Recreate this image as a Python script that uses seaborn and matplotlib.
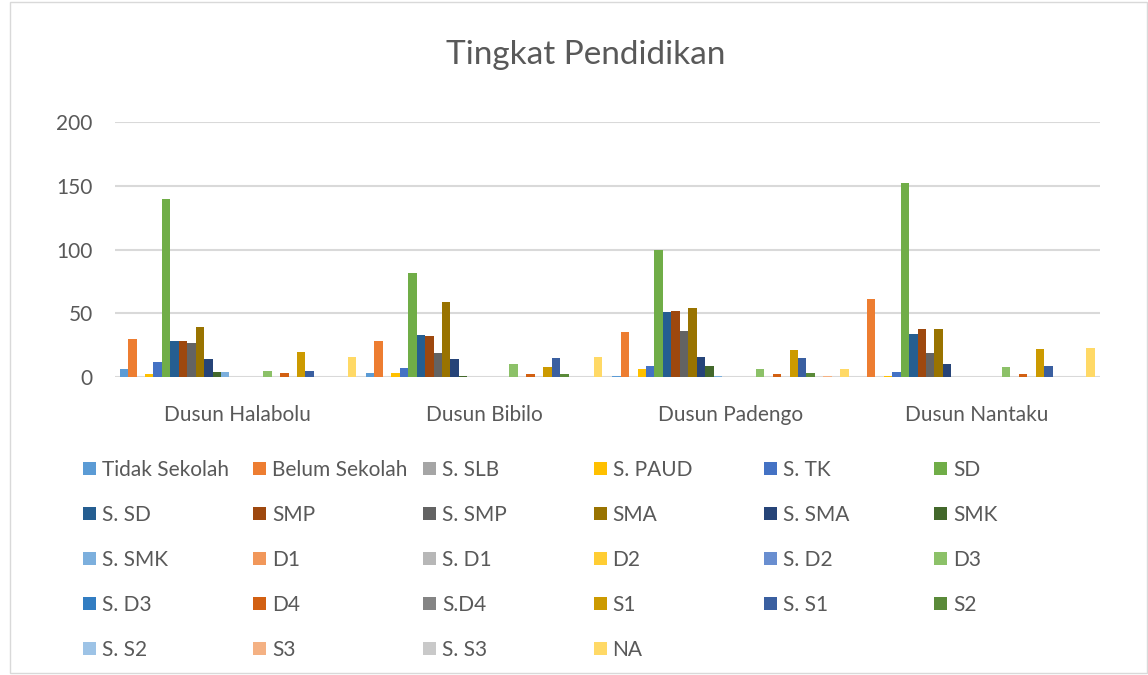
import pandas as pd
import matplotlib.pyplot as plt
import seaborn as sns
from matplotlib.patches import Rectangle

# ============================
# Data
# ============================

dusun = ["Dusun Halabolu", "Dusun Bibilo", "Dusun Padengo", "Dusun Nantaku"]

tingkat = ["Tidak Sekolah", "Belum Sekolah", "S. SLB", "S. PAUD", "S. TK", "SD",
           "S. SD", "SMP", "S. SMP", "SMA", "S. SMA", "SMK",
           "S. SMK", "D1", "S. D1", "D2", "S. D2", "D3",
           "S. D3", "D4", "S.D4", "S1", "S. S1", "S2",
           "S. S2", "S3", "S. S3", "NA"]

halabolu = [6, 30, 0, 2, 12, 140, 28, 28, 27, 39, 14, 4, 4, 0, 0, 0, 0, 5, 0, 3, 0, 20, 5, 0, 0, 0, 0, 16]
bibilo = [3, 28, 0, 3, 7, 82, 33, 32, 19, 59, 14, 1, 0, 0, 0, 0, 0, 10, 0, 2, 0, 8, 15, 2, 0, 0, 0, 16]
padengo = [1, 35, 0, 6, 9, 100, 51, 52, 36, 54, 16, 9, 1, 0, 0, 0, 0, 6, 0, 2, 0, 21, 15, 3, 0, 1, 0, 6]
nantaku = [0, 61, 0, 1, 4, 152, 34, 38, 19, 38, 10, 0, 0, 0, 0, 0, 0, 8, 0, 2, 0, 22, 9, 0, 0, 0, 0, 23]

colors = ["#5B9BD5", "#ED7D31", "#A5A5A5", "#FFC000", "#4472C4", "#70AD47",
          "#255E91", "#9E480E", "#636363", "#997300", "#264478", "#43682B",
          "#7CAFDD", "#F1975A", "#B7B7B7", "#FFCD33", "#698ED0", "#8CC168",
          "#327DC2", "#D26012", "#848484", "#CC9A00", "#3A5FA0", "#5A8A39",
          "#9DC3E6", "#F4B183", "#C9C9C9", "#FFD966"]

rows = []
for d, vals in zip(dusun, [halabolu, bibilo, padengo, nantaku]):
    for t, v in zip(tingkat, vals):
        rows.append({"Dusun": d, "Tingkat": t, "Jumlah": v})
df = pd.DataFrame(rows)

# ============================
# Plot
# ============================

sns.set_theme(style="white")
plt.rcParams['font.family'] = ['Lato', 'DejaVu Sans']
text_color = "#595959"

W, H = 1148, 675
fig = plt.figure(figsize=(W / 100, H / 100), dpi=100)
ax = fig.add_axes([0.1, 0.4415, 0.858, 0.3775])

sns.barplot(data=df, x="Dusun", y="Jumlah", hue="Tingkat", hue_order=tingkat,
            palette=colors, width=0.96, ax=ax, legend=False, saturation=1,
            edgecolor="none")

ax.set_ylim(0, 200)
ax.set_yticks([0, 50, 100, 150, 200])
ax.yaxis.grid(True, color="#D9D9D9", linewidth=1.5)
ax.set_axisbelow(True)
for s in ax.spines.values():
    s.set_visible(False)
ax.set_xlabel("")
ax.set_ylabel("")
ax.tick_params(axis="both", length=0, labelsize=15, colors=text_color)
ax.tick_params(axis="x", pad=20)
ax.tick_params(axis="y", pad=16)

fig.text(0.51, 0.918, "Tingkat Pendidikan", ha="center", va="center",
         fontsize=24, color=text_color)

# ============================
# Legend (row-major grid, like Excel)
# ============================

ncol = 6
x0, dx = 83, 170.2
y0, dy = 468, 45
box = 13
for i, (t, c) in enumerate(zip(tingkat, colors)):
    r, col = divmod(i, ncol)
    x = x0 + col * dx
    y = y0 + r * dy
    fig.patches.append(Rectangle((x / W, 1 - (y + box / 2) / H), box / W, box / H,
                                 transform=fig.transFigure, facecolor=c,
                                 edgecolor="none"))
    fig.text((x + 19) / W, 1 - y / H, t, ha="left", va="center_baseline",
             fontsize=15, color=text_color)

fig.patches.append(Rectangle((0.009, 0.003), 0.99, 0.994, transform=fig.transFigure,
                             fill=False, edgecolor="#D9D9D9", linewidth=1))

fig.savefig("out.png", dpi=100)
